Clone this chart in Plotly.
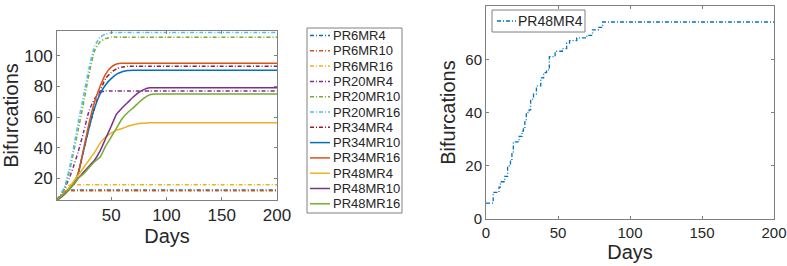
import plotly.graph_objects as go

# ---------------- data: left panel ----------------
days = [1, 4, 8, 12, 16, 20, 25, 30, 35, 40, 45, 50, 55, 60, 65, 70, 75, 80, 85, 90, 100, 200]

PR6MR4   = [6, 9, 11.5, 12.5, 12.5, 12.5, 12.5, 12.5, 12.5, 12.5, 12.5, 12.5, 12.5, 12.5, 12.5, 12.5, 12.5, 12.5, 12.5, 12.5, 12.5, 12.5]
PR6MR10  = [6, 9, 11.5, 12, 12, 12, 12, 12, 12, 12, 12, 12, 12, 12, 12, 12, 12, 12, 12, 12, 12, 12]
PR6MR16  = [6, 9, 13, 15.5, 16, 16, 16, 16, 16, 16, 16, 16, 16, 16, 16, 16, 16, 16, 16, 16, 16, 16]
PR20MR4  = [6, 9, 14, 20, 28, 37, 50, 64, 72, 76, 77, 77, 77, 77, 77, 77, 77, 77, 77, 77, 77, 77]
PR20MR10 = [6, 9, 14, 24, 37, 51, 69, 88, 103, 109, 111, 112, 112, 112, 112, 112, 112, 112, 112, 112, 112, 112]
PR20MR16 = [6, 9, 15, 26, 40, 56, 74, 92, 106, 112, 114, 115, 115, 115, 115, 115, 115, 115, 115, 115, 115, 115]
PR34MR4  = [6, 7.5, 10, 13, 17, 23, 38, 53, 66, 77, 85, 89, 91.5, 92.5, 93, 93, 93, 93, 93, 93, 93, 93]
PR34MR10 = [6, 7.5, 10, 13, 17, 23, 38, 53, 66, 75, 81, 85, 88, 89.5, 90.3, 90.5, 90.5, 90.5, 90.5, 90.5, 90.5, 90.5]
PR34MR16 = [6, 7.5, 10, 13, 17, 23, 39, 56, 70, 80, 88, 92.5, 94.5, 95, 95, 95, 95, 95, 95, 95, 95, 95]
PR48MR4  = [6, 8, 11, 14, 18, 22, 27, 32, 37, 43, 47, 49.5, 51.5, 52.5, 54, 55, 55.8, 56, 56.3, 56.3, 56.3, 56.3]
PR48MR10 = [6, 8, 10.5, 13, 16, 20, 24, 28, 32, 38, 46, 54, 62, 66, 69.5, 73, 76, 78, 79, 79, 79, 79]
PR48MR16 = [6, 8, 10.5, 13, 16, 20, 23, 27, 31, 34, 41, 47, 53, 59, 63, 66, 69.5, 72.5, 74.5, 75, 75, 75]

# ---------------- data: right panel (step) ----------------
r_days = [0, 4, 5, 8, 9, 10, 12, 13, 15, 17, 18, 19, 22, 23, 25, 26, 27, 28, 30, 31, 33, 35,
          37, 38, 40, 42, 44, 47, 48, 51, 53, 56, 58, 61, 63, 67, 70, 72, 74, 76, 78, 81, 200]
r_vals = [6, 6, 10, 10, 12, 14, 14, 16, 20, 22, 25, 29, 29, 31, 33, 34, 37, 40, 41, 45, 47, 50,
          50, 53, 55, 56, 61, 61, 63, 63, 64, 66, 67, 67, 68, 68, 69, 69, 71, 71, 72, 74, 74]

series = [
    ("PR6MR4", PR6MR4, "#0072BD", "dashdot"),
    ("PR6MR10", PR6MR10, "#D95319", "dashdot"),
    ("PR6MR16", PR6MR16, "#EDB120", "dashdot"),
    ("PR20MR4", PR20MR4, "#7E2F8E", "dashdot"),
    ("PR20MR10", PR20MR10, "#77AC30", "dashdot"),
    ("PR20MR16", PR20MR16, "#4DBEEE", "dashdot"),
    ("PR34MR4", PR34MR4, "#A2142F", "dashdot"),
    ("PR34MR10", PR34MR10, "#0072BD", "solid"),
    ("PR34MR16", PR34MR16, "#D95319", "solid"),
    ("PR48MR4", PR48MR4, "#EDB120", "solid"),
    ("PR48MR10", PR48MR10, "#7E2F8E", "solid"),
    ("PR48MR16", PR48MR16, "#77AC30", "solid"),
]

W, H = 787, 266
DD = "4px,2px,1px,2px"


def dash_of(d):
    return DD if d == "dashdot" else "solid"


def px_x(p):
    return p / W


def px_y(p):
    return 1 - p / H


fig = go.Figure()
for name, vals, col, dash in series:
    fig.add_trace(go.Scatter(x=days, y=vals, mode="lines", name=name, showlegend=False,
                             line=dict(color=col, dash=dash_of(dash), width=1.5,
                                       shape="spline", smoothing=0.6),
                             xaxis="x", yaxis="y"))

fig.add_trace(go.Scatter(x=r_days, y=r_vals, mode="lines", name="PR48MR4", showlegend=False,
                         line=dict(color="#0072BD", dash=DD, width=1.3, shape="hv"),
                         xaxis="x2", yaxis="y2"))

axcol = "#808080"
txtcol = "#262626"


def ax(**kw):
    d = dict(showline=True, linecolor=axcol, linewidth=1, mirror="ticks",
             ticks="inside", ticklen=3, tickcolor=axcol, showgrid=False, zeroline=False,
             automargin=False)
    d.update(kw)
    return d


shapes = []
annotations = []

# custom legend (left panel)
shapes.append(dict(type="rect", xref="paper", yref="paper",
                   x0=px_x(307), x1=px_x(402), y0=px_y(213), y1=px_y(28),
                   line=dict(color=axcol, width=1), fillcolor="white", layer="above"))
for i, (name, vals, col, dash) in enumerate(series):
    yc = 35.5 + i * 15.3
    shapes.append(dict(type="line", xref="paper", yref="paper",
                       x0=px_x(310), x1=px_x(330), y0=px_y(yc), y1=px_y(yc),
                       line=dict(color=col, width=1.5, dash=dash_of(dash)), layer="above"))
    annotations.append(dict(xref="paper", yref="paper", x=px_x(331), y=px_y(yc),
                            text=name, showarrow=False, xanchor="left", yanchor="middle",
                            font=dict(size=13, color=txtcol)))

# custom legend (right panel)
shapes.append(dict(type="rect", xref="paper", yref="paper",
                   x0=px_x(492), x1=px_x(585), y0=px_y(32), y1=px_y(10),
                   line=dict(color=axcol, width=1), fillcolor="white", layer="above"))
shapes.append(dict(type="line", xref="paper", yref="paper",
                   x0=px_x(497), x1=px_x(516), y0=px_y(21), y1=px_y(21),
                   line=dict(color="#0072BD", width=1.3, dash=DD), layer="above"))
annotations.append(dict(xref="paper", yref="paper", x=px_x(516), y=px_y(21),
                        text="PR48MR4", showarrow=False, xanchor="left", yanchor="middle",
                        font=dict(size=14, color=txtcol)))

fig.update_layout(
    width=W, height=H,
    margin=dict(l=0, r=0, t=0, b=0),
    paper_bgcolor="white", plot_bgcolor="white",
    font=dict(family="Liberation Sans, Arial, sans-serif", color=txtcol),
    showlegend=False,
    hovermode=False,
    xaxis=ax(domain=[px_x(57), px_x(277)], range=[1, 200], tickvals=[50, 100, 150, 200],
             title=dict(text="Days", font=dict(size=20), standoff=4),
             tickfont=dict(size=17, color=txtcol)),
    yaxis=ax(domain=[px_y(200), px_y(31)], range=[6, 116], tickvals=[20, 40, 60, 80, 100],
             title=dict(text="Bifurcations", font=dict(size=20), standoff=6), anchor="x",
             tickfont=dict(size=17, color=txtcol)),
    xaxis2=ax(domain=[px_x(486), px_x(774)], range=[0, 200], tickvals=[0, 50, 100, 150, 200],
              title=dict(text="Days", font=dict(size=20), standoff=2), anchor="y2",
              tickfont=dict(size=15, color=txtcol)),
    yaxis2=ax(domain=[px_y(219), px_y(6)], range=[0, 80], tickvals=[0, 20, 40, 60, 80],
              title=dict(text="Bifurcations", font=dict(size=20), standoff=4), anchor="x2",
              tickfont=dict(size=15, color=txtcol)),
    shapes=shapes,
    annotations=annotations,
)

# remove the browser's default 8px page margin so the figure sits at the window origin
fig.write_html("out.html",
               config={"displayModeBar": False},
               post_script="document.body.style.margin='0';document.body.style.overflow='hidden';")
